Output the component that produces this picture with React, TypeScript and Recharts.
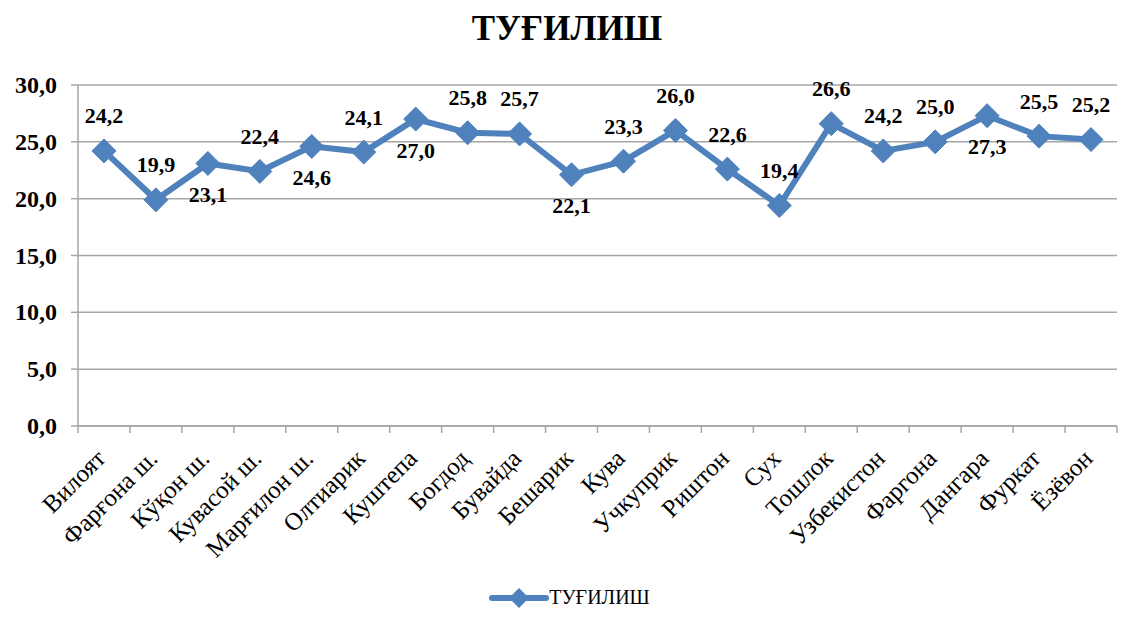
import React from 'react';
import { LineChart, Line, XAxis, YAxis, CartesianGrid, Legend, LabelList } from 'recharts';

const districts = [
    'Вилоят', 'Фарғона ш.', 'Кўқон ш.', 'Кувасой ш.', 'Марғилон ш.', 'Олтиарик', 'Куштепа',
    'Богдод', 'Бувайда', 'Бешарик', 'Кува', 'Учкуприк', 'Риштон', 'Сух', 'Тошлок',
    'Узбекистон', 'Фаргона', 'Дангара', 'Фуркат', 'Ёзёвон',
];
const births = [24.2, 19.9, 23.1, 22.4, 24.6, 24.1, 27.0, 25.8, 25.7, 22.1, 23.3, 26.0, 22.6, 19.4, 26.6, 24.2, 25.0, 27.3, 25.5, 25.2];
const yTicks = [0, 5, 10, 15, 20, 25, 30];
// indexes whose value label sits under the marker
const labelsBelow = [2, 4, 6, 9, 17];

const data = districts.map((name, i) => ({ name, value: births[i] }));

const BLUE = '#4F81BD';
const GRID = '#A6A6A6';
const FONT = '"Liberation Serif", "Times New Roman", serif';
const W = 1122;
const H = 624;
const PLOT_LEFT = 78;
const PLOT_RIGHT = 1117;
const STEP = (PLOT_RIGHT - PLOT_LEFT) / districts.length;

const fmt = (v: number) => v.toFixed(1).replace('.', ',');

const Diamond = (props: any) => {
    const { cx, cy } = props;
    if (cx == null || cy == null) return null;
    const r = 12;
    return <path d={`M${cx},${cy - r}L${cx + r},${cy}L${cx},${cy + r}L${cx - r},${cy}Z`} fill={BLUE} stroke={BLUE} />;
};

const XTick = (props: any) => {
    const { x, y, payload, index } = props;
    const left = x - STEP / 2;
    const ax = x + 3;
    const ay = y + 26;
    return (
        <g>
            <line x1={left} y1={y - 8} x2={left} y2={y - 1} stroke={GRID} strokeWidth={1.5} />
            {index === districts.length - 1 && (
                <line x1={x + STEP / 2} y1={y - 8} x2={x + STEP / 2} y2={y - 1} stroke={GRID} strokeWidth={1.5} />
            )}
            <text
                x={ax}
                y={ay}
                transform={`rotate(-45, ${ax}, ${ay})`}
                textAnchor="end"
                fontFamily={FONT}
                fontSize={25}
                fill="#000"
            >
                {payload.value}
            </text>
        </g>
    );
};

const YTick = (props: any) => {
    const { x, y, payload } = props;
    return (
        <text
            x={x}
            y={y}
            textAnchor="end"
            dominantBaseline="central"
            fontFamily={FONT}
            fontWeight="bold"
            fontSize={24}
            fill="#000"
        >
            {fmt(payload.value)}
        </text>
    );
};

const ValueLabel = (props: any) => {
    const { x, y, value, index } = props;
    const below = labelsBelow.includes(index);
    return (
        <text
            x={x}
            y={below ? y + 31 : y - 35}
            textAnchor="middle"
            dominantBaseline="central"
            fontFamily={FONT}
            fontWeight="bold"
            fontSize={22}
            fill="#000"
        >
            {fmt(value)}
        </text>
    );
};

const LegendContent = () => (
    <div
        style={{
            display: 'flex',
            justifyContent: 'center',
            alignItems: 'center',
            fontFamily: FONT,
            fontSize: 20,
            paddingLeft: 22,
        }}
    >
        <svg width={60} height={22}>
            <line x1={3} y1={11} x2={57} y2={11} stroke={BLUE} strokeWidth={6} strokeLinecap="round" />
            <path d="M30,1L40,11L30,21L20,11Z" fill={BLUE} />
        </svg>
        <span>ТУҒИЛИШ</span>
    </div>
);

export default function App() {
    return (
        <div style={{ position: 'absolute', left: 0, top: 0, width: W, height: H, background: '#fff' }}>
            <div
                style={{
                    position: 'absolute',
                    top: 9,
                    width: W,
                    paddingLeft: 12,
                    boxSizing: 'border-box',
                    textAlign: 'center',
                    fontFamily: FONT,
                    fontWeight: 'bold',
                    fontSize: 35,
                }}
            >
                ТУҒИЛИШ
            </div>
            <LineChart width={W} height={H} data={data} margin={{ top: 85, right: W - PLOT_RIGHT, left: 0, bottom: 0 }}>
                <CartesianGrid vertical={false} stroke={GRID} strokeWidth={1.5} />
                <XAxis
                    dataKey="name"
                    scale="band"
                    interval={0}
                    height={160}
                    axisLine={{ stroke: GRID, strokeWidth: 1.5 }}
                    tickLine={false}
                    tick={<XTick />}
                />
                <YAxis
                    width={PLOT_LEFT}
                    domain={[0, 30]}
                    ticks={yTicks}
                    interval={0}
                    axisLine={{ stroke: GRID, strokeWidth: 1.5 }}
                    tickLine={{ stroke: GRID, strokeWidth: 1.5 }}
                    tickSize={7}
                    tickMargin={14}
                    tick={<YTick />}
                />
                <Legend verticalAlign="bottom" height={38} content={<LegendContent />} />
                <Line
                    type="linear"
                    dataKey="value"
                    name="ТУҒИЛИШ"
                    stroke={BLUE}
                    strokeWidth={6}
                    dot={<Diamond />}
                    activeDot={false}
                    isAnimationActive={false}
                >
                    <LabelList dataKey="value" content={<ValueLabel />} />
                </Line>
            </LineChart>
        </div>
    );
}
